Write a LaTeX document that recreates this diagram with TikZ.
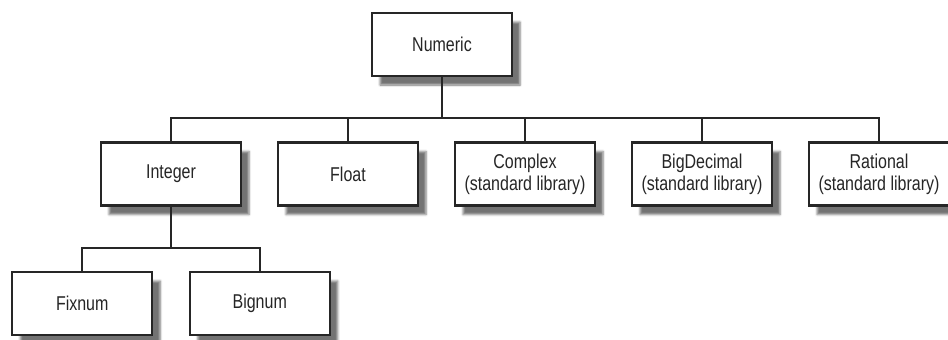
\documentclass[tikz,border=0pt]{standalone}
\usepackage{fontspec}
\setmainfont{Liberation Sans}[FakeStretch=0.8]
\usetikzlibrary{trees,shadows.blur}

\begin{document}
\begin{tikzpicture}[x=1pt,y=1pt,
  every node/.style={draw=black!85,line width=2.4pt,fill=white,minimum width=140pt,minimum height=63pt,align=center,
    font=\fontsize{20}{22}\selectfont,text=black!85,
    blur shadow={shadow xshift=8pt,shadow yshift=-9pt,shadow opacity=55}},
  edge from parent/.style={draw=black!85,line width=2pt},
  edge from parent path={(\tikzparentnode.south) -- ++(0,-41) -| (\tikzchildnode.north)},
  level 1/.style={grow via three points={one child at (83,-129.5) and two children at (-5.5,-129.5) and (171.5,-129.5)}},
  level 2/.style={grow via three points={one child at (0,-129.5) and two children at (-88.75,-129.5) and (88.75,-129.5)}}]
\useasboundingbox (0,0) rectangle (948,-340);
\node (numeric) at (442,-44.5) {Numeric}
    child{node (integer) {Integer}
        child{node (fixnum) {Fixnum}}
        child{node (bignum) {Bignum}}
    }
    child{node (float) {Float}}
    child{node (complex) {Complex\\(standard library)}}
    child{node (bigdecimal) {BigDecimal\\(standard library)}}
    child{node (rational) {Rational\\(standard library)}}
;
\end{tikzpicture}
\end{document}
